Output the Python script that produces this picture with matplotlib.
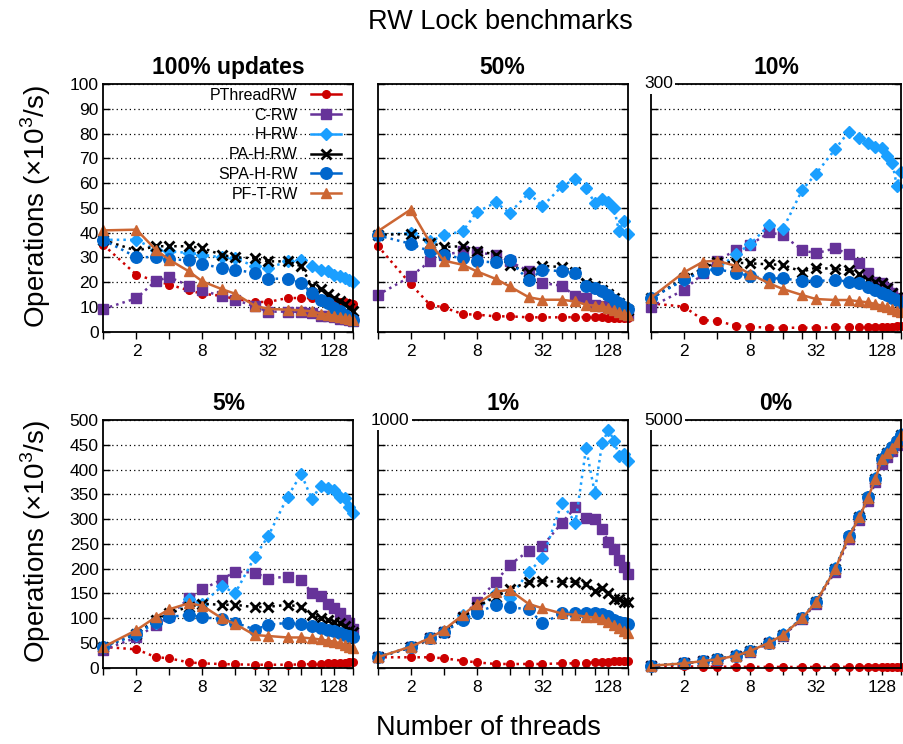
import numpy as np
import matplotlib
matplotlib.use("Agg")
import matplotlib.pyplot as plt
from matplotlib.lines import Line2D
from matplotlib.ticker import NullLocator

plt.rcParams["font.family"] = ["Liberation Sans", "DejaVu Sans"]
plt.rcParams["mathtext.fontset"] = "custom"
plt.rcParams["mathtext.rm"] = "Liberation Sans"

THREADS = [1, 2, 3, 4, 6, 8, 12, 16, 24, 32, 48, 64, 80, 96, 112, 128, 144, 160, 176, 192]
XTICKS = [1, 2, 4, 8, 16, 24, 32, 48, 64, 96, 128, 192]
XLABELS = ["", "2", "", "8", "", "", "32", "", "", "", "128", ""]
SERIES = ["PThreadRW", "C-RW", "H-RW", "PA-H-RW", "SPA-H-RW", "PF-T-RW"]

# 100% updates
u100_pthread = [35, 23, 20.5, 19, 16.7, 15.3, 14.5, 13.2, 12, 12, 13.6, 13.6, 13.5, 13.2, 13, 12.2, 12, 12, 11.5, 11]
u100_crw = [9.2, 13.5, 20.5, 22, 18.6, 16.7, 14.3, 12.9, 10.2, 8.1, 8.1, 8, 7.5, 6.5, 6.5, 6, 5.2, 5, 4.6, 4.5]
u100_hrw = [37.1, 37.1, 33, 32.4, 31.8, 31, 30, 29.6, 26.4, 25.7, 28.4, 29, 26.4, 25, 24.4, 23, 22.3, 21.7, 20.7, 20.2]
u100_pah = [37, 32.7, 34.5, 34.5, 34.5, 33.8, 31, 30, 29.7, 28.4, 28.4, 26.4, 18.3, 17.2, 15.3, 13.6, 12.2, 11, 9.6, 8.2]
u100_spa = [37, 30.1, 30.1, 29.3, 28.8, 27.3, 25.7, 25, 23.7, 21.4, 21.4, 19.6, 15.6, 12.9, 11.6, 9.6, 8.2, 6.9, 5.5, 4.8]
u100_pft = [40.9, 41.2, 33.1, 29, 24.4, 20.3, 17.2, 15.3, 10.5, 9.2, 8.9, 8.6, 8.2, 7.3, 6.9, 6.5, 5.9, 5.5, 5, 4.8]

# 50%
u50_pthread = [34.7, 19.2, 10.9, 9.8, 7.1, 6.9, 6.2, 6.2, 5.8, 5.8, 5.8, 5.9, 5.9, 5.8, 5.8, 5.6, 5.6, 5.5, 5.5, 5.5]
u50_crw = [14.8, 22.3, 28.4, 31, 32.4, 32, 31, 28.4, 24.4, 19.6, 18.6, 14.3, 13.6, 10.9, 10.5, 10, 9.2, 8.5, 7.8, 6.9]
u50_hrw = [39.2, 39.8, 36.5, 38.9, 40.6, 48.2, 52.2, 47.9, 56, 50.6, 58.7, 61.6, 58, 52, 53.6, 52.2, 49.9, 40.5, 44.5, 39.6]
u50_pah = [39.2, 39.4, 36, 34.2, 34.5, 32.7, 31.1, 27, 24, 26.6, 26.1, 24, 19.6, 18.3, 17, 15.3, 13.6, 11.6, 10, 8.9]
u50_spa = [38.9, 35.5, 32.4, 30.8, 29.7, 28.4, 28, 28.8, 20.7, 25, 24.4, 23.7, 18.6, 17.6, 16.3, 14.9, 12.9, 11.6, 10, 9.2]
u50_pft = [40.5, 49.3, 36, 28.7, 27, 24.4, 21.3, 18.3, 13.9, 12.9, 12.9, 12.2, 10.9, 10.5, 10.2, 9.6, 8.6, 7.8, 7.3, 6.7]

# 10%
u10_pthread = [34.3, 30.3, 14.1, 12.9, 7.3, 6.1, 4.8, 4.8, 4.8, 4.8, 5.2, 5.2, 5.2, 5.6, 6, 6, 6, 6, 6.5, 6.5]
u10_crw = [30.3, 50.5, 70.7, 86, 98.9, 105, 120.3, 117, 98.9, 94.9, 101, 93.7, 82.8, 70.7, 60.6, 58.6, 52.5, 46.4, 40.4, 34.3]
u10_hrw = [40.4, 62.6, 74.7, 75.5, 94, 105.8, 129.2, 124, 171.6, 191, 220.9, 242.3, 234.2, 229, 224, 222, 212.8, 204.7, 176.5, 193.8]
u10_pah = [40.4, 64.6, 76.7, 84.8, 83.6, 82.8, 81.6, 80.8, 72.7, 77.5, 75.9, 74.7, 69.9, 62.6, 60.5, 58.6, 52.5, 47.2, 42.4, 36.3]
u10_spa = [40.4, 63.4, 72.7, 75.5, 71.5, 67.4, 64.6, 64.6, 61.4, 61.4, 62.6, 60.6, 58.6, 54.5, 50.5, 47.2, 44.4, 41.2, 38.4, 36.3]
u10_pft = [41.2, 71.9, 84.8, 86, 79.5, 69.9, 58.6, 51.7, 44.4, 39.6, 38.4, 38.4, 36.7, 35.5, 33.5, 31.5, 29.5, 27.5, 25.4, 23.8]

# 5%
u5_pthread = [42, 37, 21.5, 18.8, 10.8, 8.7, 7.4, 6.7, 6, 6, 6, 6.7, 7.4, 8, 8.7, 9.4, 10, 10, 10.8, 10.8]
u5_crw = [36, 61, 86, 104, 140, 158, 178, 194, 192, 180, 184, 178, 151, 145, 129, 120, 110, 96, 90, 79]
u5_hrw = [42, 66, 91, 103, 138, 129, 164, 151, 223, 266, 345, 391, 340, 367, 362, 359, 345, 342, 324, 312]
u5_pah = [42, 69, 96, 110, 123, 129, 127, 127, 122, 123, 127, 123, 106, 100, 96, 93, 89.5, 84, 77, 73]
u5_spa = [42, 69, 93, 103, 106, 102, 98, 91, 77, 86, 91, 88, 84, 81, 77, 75, 71, 67, 64, 61]
u5_pft = [42, 76, 102, 118, 130, 125, 100, 88, 66, 64, 61, 61, 59, 57, 54.5, 52.5, 49, 46, 42, 39]

# 1%
u1_pthread = [42, 42, 42, 38, 28, 21.5, 15, 15, 15, 15, 17.5, 17.5, 20, 21, 22, 24, 26, 27, 27, 28]
u1_crw = [42, 82, 118, 145, 206, 266, 347, 415, 472, 491, 585, 647, 603, 599, 559, 509, 478, 435, 408, 378]
u1_hrw = [42, 85, 118, 145, 213, 230, 303, 280, 388, 441, 664, 585, 886, 707, 906, 960, 917, 855, 863, 836]
u1_pah = [42, 82, 118, 145, 203, 246, 287, 316, 347, 350, 347, 347, 336, 311, 320, 300, 277, 276, 266, 266]
u1_spa = [42, 82, 118, 143, 192, 222, 253, 244, 236, 179, 219, 219, 219, 219, 217, 209, 192, 186, 179, 175]
u1_pft = [42, 85, 120, 152, 213, 257, 307, 314, 257, 240, 219, 213, 206, 203, 197, 186, 172, 159, 148, 139]

# 0%
u0_pthread = [40, 25, 22, 20, 18, 17, 16, 15, 15, 15, 16, 17, 18, 19, 20, 21, 22, 22, 23, 23]
u0_crw = [40, 85, 130, 160, 235, 325, 490, 645, 975, 1290, 1940, 2590, 2980, 3370, 3740, 4120, 4250, 4370, 4490, 4620]
u0_hrw = [42, 90, 138, 172, 248, 345, 515, 672, 1010, 1335, 2005, 2665, 3055, 3450, 3830, 4230, 4350, 4465, 4590, 4720]
u0_pah = [40, 87, 135, 168, 242, 336, 505, 660, 996, 1319, 1985, 2645, 3035, 3432, 3809, 4206, 4327, 4442, 4563, 4698]
u0_spa = [41, 88, 136, 170, 245, 340, 508, 665, 1000, 1325, 1990, 2650, 3040, 3440, 3815, 4215, 4335, 4450, 4570, 4705]
u0_pft = [40, 87, 135, 168, 242, 336, 505, 660, 996, 1319, 1985, 2645, 3035, 3432, 3809, 4206, 4327, 4442, 4563, 4698]

PANELS = [
    ("100% updates", 100, [u100_pthread, u100_crw, u100_hrw, u100_pah, u100_spa, u100_pft]),
    ("50%", 100, [u50_pthread, u50_crw, u50_hrw, u50_pah, u50_spa, u50_pft]),
    ("10%", 300, [u10_pthread, u10_crw, u10_hrw, u10_pah, u10_spa, u10_pft]),
    ("5%", 500, [u5_pthread, u5_crw, u5_hrw, u5_pah, u5_spa, u5_pft]),
    ("1%", 1000, [u1_pthread, u1_crw, u1_hrw, u1_pah, u1_spa, u1_pft]),
    ("0%", 5000, [u0_pthread, u0_crw, u0_hrw, u0_pah, u0_spa, u0_pft]),
]

STYLE = {
    "PThreadRW": dict(color="#cc0000", marker="o", ms=5.5, ls=":", mew=1),
    "C-RW":      dict(color="#663399", marker="s", ms=6.5, ls=":", mew=1),
    "H-RW":      dict(color="#1a9fff", marker="D", ms=5.8, ls=":", mew=1),
    "PA-H-RW":   dict(color="black",   marker="x", ms=6.5, ls=":", mew=2),
    "SPA-H-RW":  dict(color="#0066cc", marker="o", ms=8.3, ls=":", mew=1),
    "PF-T-RW":   dict(color="#cc6633", marker="^", ms=7.5, ls="-", mew=1),
}

W, H = 904, 744
LEFTS = [103.5, 377.7, 651]
TOPS = [84, 420]
PW, PH = 250, 247.7

fig = plt.figure(figsize=(W / 100, H / 100), dpi=100)

for i, (title, ymax, data) in enumerate(PANELS):
    r, c = divmod(i, 3)
    ax = fig.add_axes([LEFTS[c] / W, 1 - (TOPS[r] + PH) / H, PW / W, PH / H])
    for name, vals in zip(SERIES, data):
        st = STYLE[name]
        ax.plot(THREADS, vals, color=st["color"], marker=st["marker"], ms=st["ms"],
                mew=st["mew"], ls=st["ls"], lw=1.8, clip_on=False)

    ax.set_xscale("log", base=2)
    ax.set_xlim(1, 192)
    ax.set_xticks(XTICKS, XLABELS)
    ax.xaxis.set_minor_locator(NullLocator())
    ax.set_ylim(0, ymax)
    ax.set_yticks(np.linspace(0, ymax, 11))
    ax.tick_params(axis="x", direction="out", length=5, width=1, labelsize=12.5, top=False)
    ax.tick_params(axis="y", direction="in", length=5, width=1, labelsize=12.5,
                   right=True, labelleft=(c == 0))
    ax.grid(axis="y", color="black", ls=(0, (1, 2.5)), lw=0.9)
    ax.set_axisbelow(True)
    for sp in ax.spines.values():
        sp.set_linewidth(1.3)
    ax.set_title(title, fontsize=16.5, fontweight="bold", pad=7)

    # top value shown at the upper-left corner for panels without tick labels
    if c > 0 and ymax != 100:
        ax.annotate(str(ymax), xy=(0, 1), xycoords="axes fraction",
                    xytext=(-7, 0), textcoords="offset pixels",
                    ha="left", va="center", fontsize=12.5, zorder=10,
                    bbox=dict(boxstyle="square,pad=0.15", fc="white", ec="none"))

    if i == 0:
        handles = [Line2D([], [], color=STYLE[n]["color"], marker=STYLE[n]["marker"],
                          ms=STYLE[n]["ms"], mew=STYLE[n]["mew"], ls="-", lw=1.8)
                   for n in SERIES]
        ax.legend(handles, SERIES, loc="upper right", bbox_to_anchor=(0.95, 0.985),
                  frameon=False, markerfirst=False, fontsize=11.5, handlelength=1.9,
                  handletextpad=0.8, labelspacing=0.3, borderpad=0, borderaxespad=0,
                  numpoints=1)

fig.text(500 / W, 1 - 22 / H, "RW Lock benchmarks", ha="center", va="center", fontsize=19.5)
fig.text(488 / W, 1 - 728 / H, "Number of threads", ha="center", va="center", fontsize=19.5)
for yc in [207, 542]:
    fig.text(36 / W, 1 - yc / H, r"Operations ($\times$10$^{3}$/s)", rotation=90,
             ha="center", va="center", fontsize=20)

fig.savefig("out.png", dpi=100)
